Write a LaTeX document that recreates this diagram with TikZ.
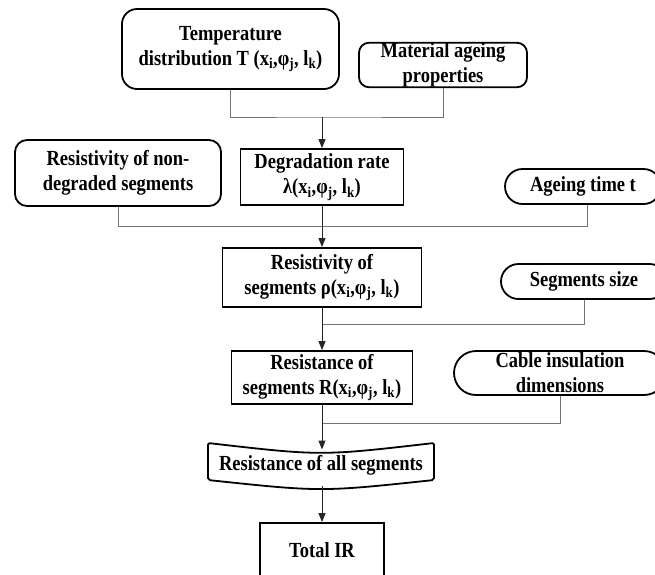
\documentclass[tikz,border=0pt]{standalone}
\usepackage{fontspec}
\setmainfont[FakeStretch=0.86]{Liberation Serif}
\usetikzlibrary{arrows.meta,calc}
\newcommand\sbs[1]{\textsubscript{#1}}
\begin{document}
\begin{tikzpicture}[x=1pt,y=-1pt,
  every node/.style={font=\fontsize{21.5}{25}\selectfont\bfseries, align=center, inner sep=0pt},
  sqbox/.style={draw, line width=1.8pt},
  rbox/.style={draw, line width=1.8pt, rounded corners=#1},
  feed/.style={draw=black!55, line width=1pt},
  arr/.style={draw=black!85, line width=1pt, -{Triangle[length=9pt,width=7pt]}}]
\useasboundingbox (0,0) rectangle (655,574);
\fill[white] (0,0) rectangle (655,574);
\clip (0,0) rectangle (655,574);

% nodes
\node[rbox=15pt, minimum width=217pt, minimum height=80pt] (temp) at (230.5,49)
  {Temperature\\distribution T (x\sbs{i},φ\sbs{j}, l\sbs{k})};
\node[rbox=10pt, minimum width=168pt, minimum height=44pt] (mat) at (443,65)
  {Material ageing\\properties};
\node[rbox=12pt, minimum width=206pt, minimum height=66pt] (nondeg) at (118,173)
  {Resistivity of non-\\degraded segments};
\node[sqbox, minimum width=163pt, minimum height=56pt] (deg) at (322,177)
  {Degradation rate\\λ(x\sbs{i},φ\sbs{j}, l\sbs{k})};
\node[rbox=17.5pt, minimum width=156pt, minimum height=35pt] (age) at (583,186.5)
  {Ageing time t};
\node[sqbox, minimum width=199pt, minimum height=59pt] (res) at (322,277.5)
  {Resistivity of\\segments ρ(x\sbs{i},φ\sbs{j}, l\sbs{k})};
\node[rbox=17.5pt, minimum width=166pt, minimum height=35pt] (seg) at (584,281.5)
  {Segments size};
\node[sqbox, minimum width=181pt, minimum height=53pt] (rst) at (322,377.5)
  {Resistance of\\segments R(x\sbs{i},φ\sbs{j}, l\sbs{k})};
\node[rbox=22pt, minimum width=212pt, minimum height=44pt] (cab) at (560,373)
  {Cable insulation\\dimensions};
\draw[line width=1.8pt, rounded corners=2pt] (208,443) .. controls (321,456) .. (434,443)
  -- (434,480) .. controls (321,492) .. (208,480) -- cycle;
\node (all) at (321,465) {Resistance of all segments};
\coordinate (alltop) at (322,449.5);
\coordinate (allbot) at (322,486);
\node[sqbox, minimum width=124pt, minimum height=54pt] (tir) at (322,550)
  {Total IR};

% junctions
\coordinate (j1) at (322,117);
\coordinate (j2) at (322,226);
\coordinate (j3) at (322,324);
\coordinate (j4) at (322,423);

% connectors
\draw[feed] (temp.south) |- (j1) -| (mat.south);
\draw[arr] (j1) -- (deg.north);
\draw[feed] (nondeg.south) |- (j2);
\draw[feed] ($(age.south)+(4,0)$) |- (j2);
\draw[arr] (deg.south) -- (res.north);
\draw[feed] (seg.south) |- (j3);
\draw[arr] (res.south) -- (rst.north);
\draw[feed] (cab.south) |- (j4);
\draw[arr] (rst.south) -- (alltop);
\draw[arr] (allbot) -- (tir.north);
\end{tikzpicture}
\end{document}
